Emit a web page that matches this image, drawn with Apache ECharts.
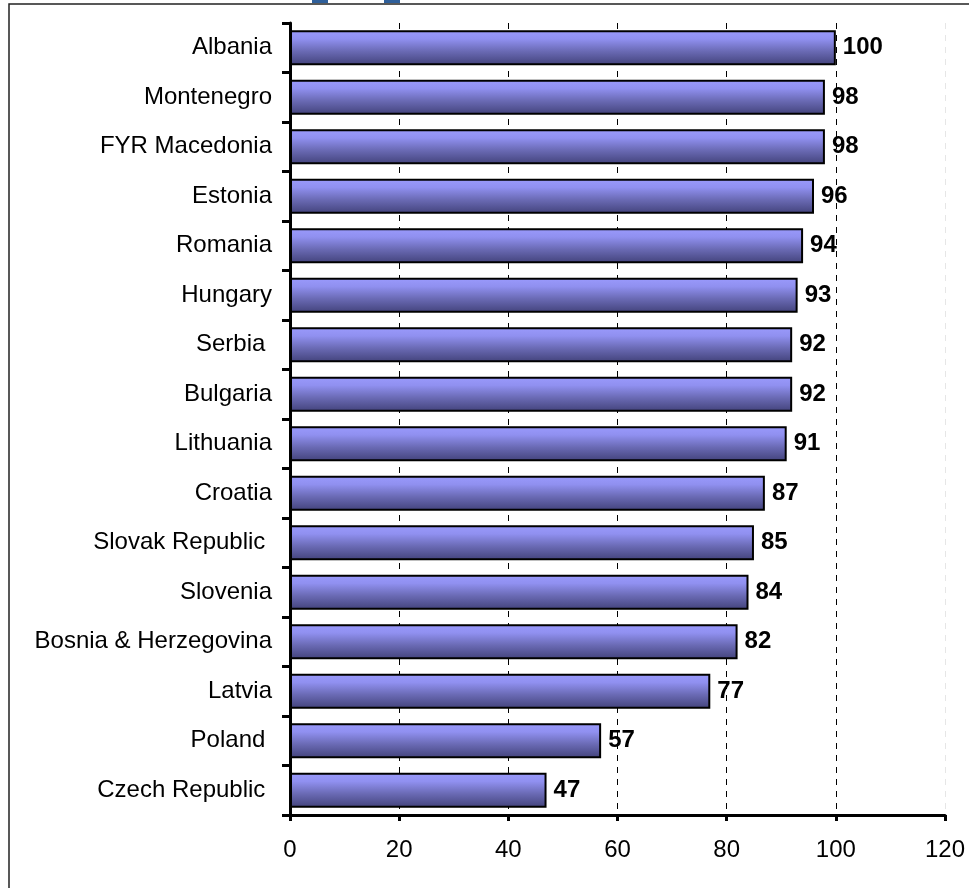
<!DOCTYPE html>
<html>
<head>
<meta charset="utf-8">
<script src="https://cdn.jsdelivr.net/npm/echarts@6/dist/echarts.min.js"></script>
<style>
  html, body { margin: 0; padding: 0; background: #fff; }
  #chart { width: 969px; height: 888px; }
</style>
</head>
<body>
<div id="chart"></div>
<script>
// Countries, top to bottom
const countries = [
  'Albania', 'Montenegro', 'FYR Macedonia', 'Estonia', 'Romania', 'Hungary',
  'Serbia ', 'Bulgaria', 'Lithuania', 'Croatia', 'Slovak Republic ', 'Slovenia',
  'Bosnia & Herzegovina', 'Latvia', 'Poland ', 'Czech Republic '
];
// Index values for each country
const values = [100, 98, 98, 96, 94, 93, 92, 92, 91, 87, 85, 84, 82, 77, 57, 47];
// Value axis ticks
const axisMin = 0;
const axisMax = 120;
const axisStep = 20;

const FONT = 'Liberation Sans, Arial, sans-serif';

const chart = echarts.init(document.getElementById('chart'), null, { renderer: 'canvas' });

const barFill = new echarts.graphic.LinearGradient(0, 0, 0, 1, [
  { offset: 0, color: '#9a9afc' },
  { offset: 0.25, color: '#9090f0' },
  { offset: 0.6, color: '#6a6ab4' },
  { offset: 1, color: '#42427a' }
]);

chart.setOption({
  animation: false,
  backgroundColor: '#ffffff',
  textStyle: { fontFamily: FONT },
  graphic: [
    { type: 'rect', shape: { x: 9, y: 4, width: 1000, height: 1000 },
      style: { fill: 'none', stroke: '#222', lineWidth: 1.5 }, silent: true },
    { type: 'rect', shape: { x: 312, y: 0, width: 16, height: 3 },
      style: { fill: '#2f5f9a' }, silent: true },
    { type: 'rect', shape: { x: 384, y: 0, width: 16, height: 3 },
      style: { fill: '#2f5f9a' }, silent: true }
  ],
  grid: { left: 290, right: 24, top: 23, bottom: 73, containLabel: false },
  xAxis: {
    type: 'value',
    min: axisMin,
    max: axisMax,
    interval: axisStep,
    axisLine: { show: true, lineStyle: { color: '#000', width: 3 } },
    axisTick: { show: true, length: 6, lineStyle: { color: '#000', width: 3 } },
    axisLabel: { color: '#000', fontSize: 24, margin: 23, fontFamily: FONT },
    splitLine: {
      show: true,
      lineStyle: {
        color: ['#000', '#000', '#000', '#000', '#000', '#000', '#e6e6e6'],
        type: [6, 6],
        width: 1
      }
    }
  },
  yAxis: {
    type: 'category',
    data: countries,
    inverse: true,
    axisLine: { show: true, lineStyle: { color: '#000', width: 3 } },
    axisTick: { show: true, length: 8, lineStyle: { color: '#000', width: 3 } },
    axisLabel: { color: '#000', fontSize: 24, margin: 18, fontFamily: FONT },
    splitLine: { show: false }
  },
  series: [{
    type: 'bar',
    data: values,
    barCategoryGap: '29%',
    itemStyle: { color: barFill, borderColor: '#000', borderWidth: 2 },
    label: {
      show: true,
      position: 'right',
      distance: 7,
      color: '#000',
      fontSize: 24,
      fontWeight: 'bold',
      fontFamily: FONT
    },
    z: 3
  }]
});
</script>
</body>
</html>
